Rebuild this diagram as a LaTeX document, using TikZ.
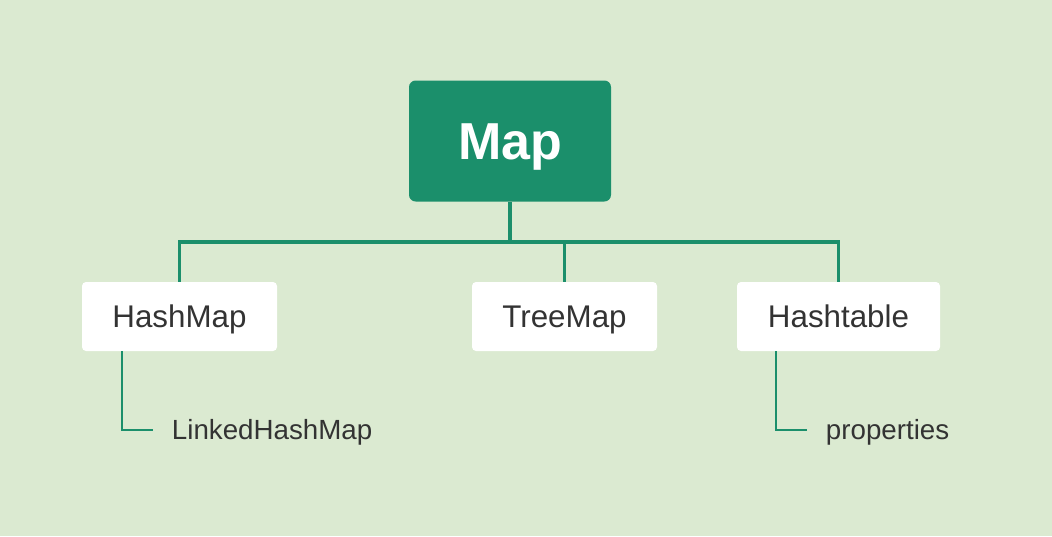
\documentclass[tikz,border=0pt]{standalone}
\usepackage{fontspec}
\setmainfont{Liberation Sans}
\usetikzlibrary{positioning,calc}

\definecolor{bggreen}{HTML}{DBEAD1}
\definecolor{mapgreen}{HTML}{1B8F6B}
\definecolor{inkgray}{HTML}{333333}

\begin{document}
\begin{tikzpicture}[%
    x=0.75pt,
    y=-0.75pt,
    root/.style={rectangle, rounded corners=5pt, fill=mapgreen, text=white,
      minimum width=151.5pt, minimum height=90.75pt,
      text height=27.9pt, text depth=0pt,
      font=\fontsize{39}{44}\selectfont\bfseries},
    leaf/.style={rectangle, rounded corners=3pt, fill=white, text=inkgray,
      minimum height=51.75pt, text height=16.8pt, text depth=0pt,
      font=\fontsize{23.5}{28}\selectfont},
    sub/.style={text=inkgray, anchor=west, inner xsep=14pt, inner ysep=0pt,
      text height=14.9pt, text depth=0pt,
      font=\fontsize{20.8}{25}\selectfont},
    trunk/.style={mapgreen, line width=2.5pt},
    twig/.style={mapgreen, line width=1.5pt}
  ]
  \fill[bggreen] (0,0) rectangle (1052,536);

  \node[root] (map) at (510,141){Map};
  \node[leaf, minimum width=146.25pt] (hashmap) at (179.5,316.5){HashMap};
  \node[leaf, minimum width=138.75pt] (treemap) at (564.5,316.5){TreeMap};
  \node[leaf, minimum width=152.25pt] (hashtable) at (838.5,316.5){Hashtable};

  \coordinate (bus) at (510,242);
  \node[sub] (linked) at (153,429.5){LinkedHashMap};
  \node[sub] (props) at (807,429.5){properties};

  \draw[trunk] (map.south) -- (bus);
  \draw[trunk] (hashmap.north) |- (bus) -| (hashtable.north);
  \draw[trunk] (treemap.north) -- (treemap.north |- bus);

  \draw[twig] ([xshift=30pt]hashmap.south west) |- (linked.west);
  \draw[twig] ([xshift=29.25pt]hashtable.south west) |- (props.west);
\end{tikzpicture}
\end{document}
